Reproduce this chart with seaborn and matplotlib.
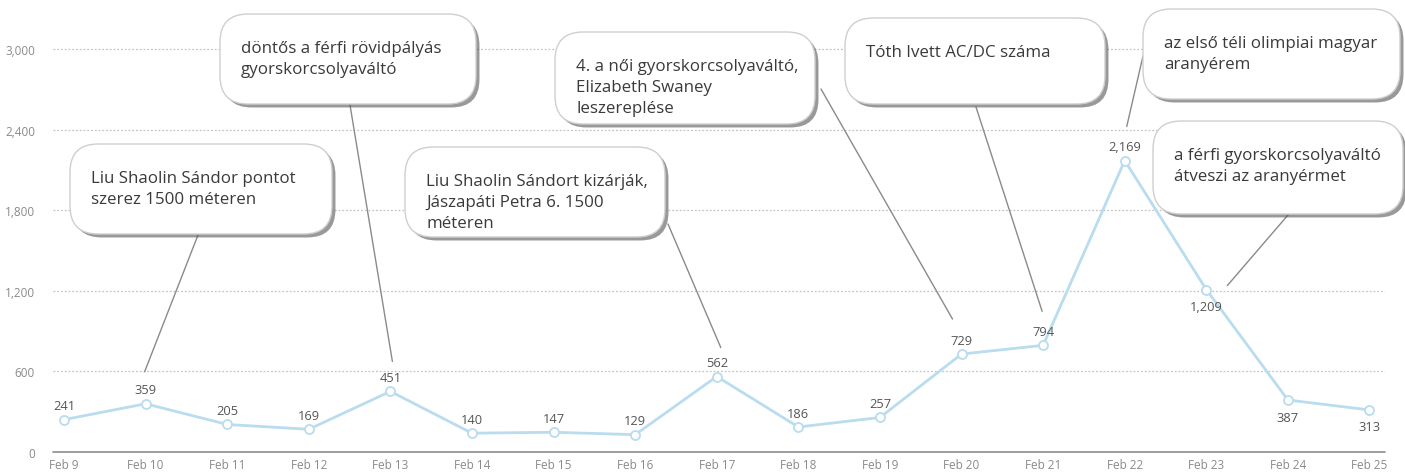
import numpy as np
import matplotlib.pyplot as plt
import matplotlib.transforms as mtrans
from matplotlib.patches import FancyBboxPatch
from matplotlib import patheffects as pe
import seaborn as sns

# %%
days = ['Feb 9', 'Feb 10', 'Feb 11', 'Feb 12', 'Feb 13', 'Feb 14', 'Feb 15', 'Feb 16', 'Feb 17',
        'Feb 18', 'Feb 19', 'Feb 20', 'Feb 21', 'Feb 22', 'Feb 23', 'Feb 24', 'Feb 25']
values = [241, 359, 205, 169, 451, 140, 147, 129, 562, 186, 257, 729, 794, 2169, 1209, 387, 313]
yticks = [0, 600, 1200, 1800, 2400, 3000]
labels_below = ['Feb 23', 'Feb 24', 'Feb 25']

note_days = ['Feb 10', 'Feb 13', 'Feb 17', 'Feb 20', 'Feb 21', 'Feb 22', 'Feb 23']
notes = [
    'Liu Shaolin Sándor pontot\nszerez 1500 méteren',
    'döntős a férfi rövidpályás\ngyorskorcsolyaváltó',
    'Liu Shaolin Sándort kizárják,\nJászapáti Petra 6. 1500\nméteren',
    '4. a női gyorskorcsolyaváltó,\nElizabeth Swaney\nleszereplése',
    'Tóth Ivett AC/DC száma',
    'az első téli olimpiai magyar\naranyérem',
    'a férfi gyorskorcsolyaváltó\nátveszi az aranyérmet',
]

# box layout in pixels (left, top, width, height), line start (x, y), line end offset from point (dx, dy)
box_px = [
    (70, 145, 262, 90), (220, 15, 256, 90), (405, 148, 260, 90), (555, 33, 260, 92),
    (845, 19, 260, 86), (1143, 10, 257, 90), (1153, 122, 250, 93),
]
line_start = [(198, 236), (350, 106), (668, 225), (821, 90), (976, 108), (1143, 57), (1288, 216)]
line_end_off = [(-1, 32), (2, 30), (4, 29), (-9, 35), (-1, 34), (2, 34), (21, 4)]

# %%
W, H = 1405, 477
sns.set_theme(style='white')
plt.rcParams['font.family'] = ['Open Sans', 'DejaVu Sans']

fig = plt.figure(figsize=(W / 100, H / 100), dpi=100)
ax = fig.add_axes([53 / W, 24 / H, (1385 - 53) / W, 453 / H])

x = np.arange(len(days))
blue = '#b9dcef'
sns.lineplot(x=x, y=values, ax=ax, color=blue, linewidth=2, marker='o', markersize=6.5,
             markerfacecolor='white', markeredgecolor=blue, markeredgewidth=1.3, zorder=3)

ax.set_xlim(-0.135, 16.19)
ax.set_ylim(0, 3372)
ax.set_yticks(yticks)
ax.set_yticklabels([f'{t:,}' for t in yticks])
ax.set_xticks(x)
ax.set_xticklabels(days)
ax.tick_params(axis='both', length=0, labelsize=8.5, colors='#8a8a8a')
ax.tick_params(axis='y', pad=13)
ax.tick_params(axis='x', pad=4)
for t in yticks[1:]:
    ax.axhline(t, color='#c4c4c4', linestyle=(0, (1.5, 1.5)), linewidth=0.9, zorder=1)
ax.axhline(0, color='#8c8c8c', linewidth=1.2, zorder=2, clip_on=False)
for s in ax.spines.values():
    s.set_visible(False)
ax.patch.set_alpha(0)

# value labels
for i, v in enumerate(values):
    dy = -17 if days[i] in labels_below else 14
    ax.annotate(f'{v:,}', (i, v), xytext=(0, dy * 0.72), textcoords='offset points',
                ha='center', va='center', fontsize=9.3, color='#555555', zorder=4)

# annotation boxes
def fx(px):
    return px / W

def fy(py):
    return 1 - py / H

for k, txt in enumerate(notes):
    left, top, w, h = box_px[k]
    box = FancyBboxPatch((fx(left), fy(top + h)), w / W, h / H, transform=fig.transFigure,
                         boxstyle='round,pad=0,rounding_size=0.02', mutation_aspect=W / H,
                         facecolor='white', edgecolor='#cfcfcf', linewidth=1, zorder=5)
    box.set_path_effects([pe.SimplePatchShadow(offset=(2.5, -2.5), shadow_rgbFace='#555555', alpha=0.6),
                          pe.Normal()])
    fig.add_artist(box)
    fig.text(fx(left + 21), fy(top + 26), txt, ha='left', va='top', fontsize=12.2,
             color='#3a3a3a', linespacing=1.42, zorder=6)

    i = days.index(note_days[k])
    dx, dy = line_end_off[k]
    end_tr = mtrans.offset_copy(ax.transData, fig=fig, x=dx, y=dy, units='dots')
    sx, sy = line_start[k]
    ax.annotate('', xy=(i, values[i]), xycoords=end_tr,
                xytext=(sx, H - sy), textcoords='figure pixels',
                arrowprops=dict(arrowstyle='-', color='#8a8a8a', linewidth=1,
                                shrinkA=0, shrinkB=0),
                annotation_clip=False, zorder=2)

fig.savefig('out.png', dpi=100)
